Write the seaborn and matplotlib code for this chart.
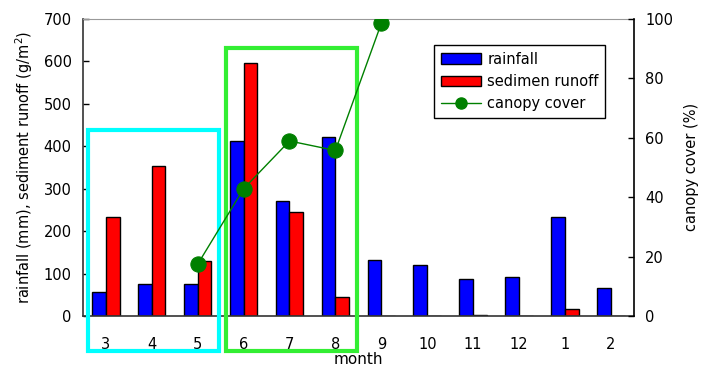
import pandas as pd
import matplotlib
matplotlib.use('Agg')
import matplotlib.pyplot as plt
import seaborn as sns
from matplotlib.patches import Rectangle
from matplotlib.lines import Line2D
from matplotlib.ticker import FixedLocator

# monthly values
months = ['3', '4', '5', '6', '7', '8', '9', '10', '11', '12', '1', '2']
rainfall = [56, 75, 75, 412, 270, 421, 132, 120, 86, 93, 234, 67]
sediment = [233, 353, 129, 596, 245, 44, 0, 0, 2, 0, 16, 0]
canopy_months = ['5', '6', '7', '8', '9']
canopy = [17.4, 42.8, 58.9, 55.7, 98.5]

df = pd.DataFrame({'month': months * 2,
                   'value': rainfall + sediment,
                   'series': ['rainfall'] * 12 + ['sedimen runoff'] * 12})

sns.set_style('white', {'text.color': 'black', 'axes.labelcolor': 'black',
                        'xtick.color': 'black', 'ytick.color': 'black'})
plt.rcParams['font.family'] = ['DejaVu Sans']

fig, ax = plt.subplots(figsize=(7.02, 3.70), dpi=100)
fig.subplots_adjust(left=0.118, right=0.903, top=0.949, bottom=0.146)

sns.barplot(data=df, x='month', y='value', hue='series', order=months,
            palette={'rainfall': '#0000ff', 'sedimen runoff': '#ff0000'},
            saturation=1, width=0.6, edgecolor='black', linewidth=1, ax=ax)
ax.get_legend().remove()
ax.set_xlim(-0.5, len(months) - 0.5)
ax.set_ylim(0, 700)
ax.set_yticks(range(0, 701, 100))
ax.set_xlabel('month', fontsize=11, labelpad=0)
ax.set_ylabel('rainfall (mm), sediment runoff (g/m$^2$)', fontsize=10.5, labelpad=6)
ax.tick_params(axis='x', which='major', length=0, pad=15, labelsize=10.5)
ax.xaxis.set_minor_locator(FixedLocator([i + 0.5 for i in range(len(months) - 1)]))
ax.tick_params(axis='x', which='minor', direction='in', length=4, width=1, color='#333333')
ax.tick_params(axis='y', direction='in', length=4, width=1, labelsize=10.5, left=True, pad=8)
for s in ['left', 'bottom']:
    ax.spines[s].set_color('#333333')
    ax.spines[s].set_linewidth(1.2)
ax.spines['top'].set_color('#999999')
ax.spines['right'].set_visible(False)

ax2 = ax.twinx()
xpos = [months.index(m) for m in canopy_months]
sns.lineplot(x=xpos, y=canopy, ax=ax2, color='#008000', linewidth=1,
             marker='o', markersize=11, markeredgecolor='#008000')
ax2.set_ylim(0, 100)
ax2.set_yticks(range(0, 101, 20))
ax2.set_ylabel('canopy cover (%)', fontsize=10.5, labelpad=8)
ax2.tick_params(axis='y', direction='in', length=4, width=1, labelsize=10.5, right=True, pad=8)
for s in ['left', 'top', 'bottom']:
    ax2.spines[s].set_visible(False)
ax2.spines['right'].set_color('black')
ax2.spines['right'].set_linewidth(1.2)

# highlight boxes around the dry-season and wet-season months
boxes = [(0, 2, 437, '#00ffff'), (3, 5, 631, '#33ee33')]
for i0, i1, top, col in boxes:
    r = Rectangle((i0 - 0.39, -82), (i1 - i0) + 0.85, top + 82, fill=False,
                  edgecolor=col, linewidth=3, clip_on=False, zorder=5)
    ax.add_patch(r)

line_handle = Line2D([], [], color='#008000', linewidth=1, marker='o', markersize=8)
handles = [ax.containers[0].patches[0], ax.containers[1].patches[0], line_handle]
leg = fig.legend(handles, ['rainfall', 'sedimen runoff', 'canopy cover'],
                 loc='upper left', bbox_to_anchor=(434 / 702, 1 - 45 / 370),
                 fontsize=10.5, frameon=True, fancybox=False, framealpha=1,
                 edgecolor='black', borderpad=0.45, labelspacing=0.5,
                 handlelength=2.8, handletextpad=0.4, borderaxespad=0)
leg.get_frame().set_linewidth(1)

fig.savefig('out.png', dpi=100)
